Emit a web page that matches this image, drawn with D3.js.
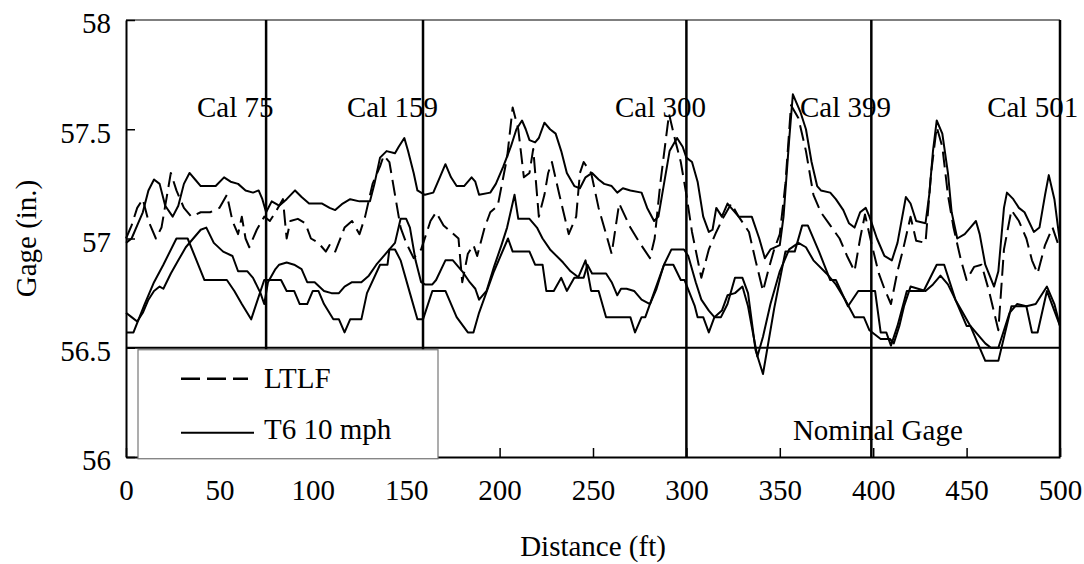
<!DOCTYPE html>
<html>
<head>
<meta charset="utf-8">
<script src="https://cdn.jsdelivr.net/npm/d3@7"></script>
<style>
  body { margin: 0; background: #fff; }
  text { font-family: "Liberation Serif", "Times New Roman", serif; fill: #000; }
</style>
</head>
<body>
<svg id="chart" width="1084" height="564"></svg>
<script>
// Data: [distance (ft), gage (in.)]
const t6Upper = [
  [0,56.98],[3,57.0],[6,57.06],[9,57.12],[12,57.22],[15,57.27],[18,57.25],[21,57.15],[25,57.1],[28,57.15],
  [31,57.25],[34,57.3],[37,57.27],[40,57.24],[48,57.24],[52.5,57.28],[56,57.26],[60,57.25],[64,57.22],[68,57.21],
  [71,57.22],[73,57.18],[75,57.12],[78,57.17],[82,57.15],[86,57.18],[90.5,57.22],[94,57.19],[98,57.16],[105,57.16],
  [109,57.14],[112,57.13],[116,57.16],[120,57.18],[125,57.17],[130.6,57.17],[133,57.25],[136,57.37],[139.5,57.4],[144,57.39],
  [146,57.42],[149,57.46],[151,57.4],[154,57.3],[156,57.22],[160,57.2],[164.5,57.21],[168,57.28],[171,57.34],[174,57.28],
  [177,57.24],[181,57.24],[185,57.28],[187,57.26],[189,57.2],[195,57.21],[198,57.25],[202,57.33],[206,57.42],[209,57.5],
  [212,57.54],[214,57.5],[216,57.45],[219,57.44],[221,57.46],[224,57.53],[227,57.5],[230,57.48],[233,57.4],[236,57.3],
  [240,57.24],[243,57.23],[246,57.28],[249.5,57.3],[253,57.27],[256,57.25],[260,57.24],[263,57.21],[266,57.23],[270,57.22],
  [276,57.21],[279,57.14],[282.7,57.08],[285,57.1],[288,57.25],[291,57.4],[295,57.46],[298,57.42],[300,57.37],[303,57.35],
  [306,57.26],[309,57.1],[312,57.03],[314,57.04],[316,57.14],[319,57.1],[322,57.16],[325,57.13],[328,57.1],[335,57.1],
  [339,57.0],[342,56.91],[345,56.95],[350,56.97],[352,57.1],[355,57.45],[357,57.66],[361,57.58],[364,57.5],[367,57.35],
  [370,57.24],[372,57.22],[377,57.21],[380,57.18],[384,57.13],[387,57.07],[390,57.05],[393,57.12],[396,57.14],[398,57.1],
  [402,57.0],[406,56.92],[410,56.9],[413,56.98],[417.5,57.19],[420,57.16],[423,57.08],[428,57.07],[430,57.2],[432,57.4],
  [434,57.54],[437,57.48],[440,57.3],[442,57.12],[445,57.0],[449,57.02],[452,57.05],[455,57.08],[457,57.02],[460,56.88],
  [464.7,56.78],[467,56.85],[470,57.14],[471.6,57.21],[475,57.18],[478,57.14],[481,57.12],[486,57.03],[489,57.05],[492,57.2],
  [494,57.29],[497,57.18],[500,56.98]
];

const ltlfUpper = [
  [0,57.0],[3,57.06],[6,57.14],[9,57.18],[12,57.08],[16,57.0],[19,57.05],[22,57.2],[24,57.3],[27,57.22],
  [31,57.14],[35,57.1],[40,57.12],[45,57.12],[50,57.14],[54,57.2],[57,57.08],[60,57.02],[62,57.1],[64,57.0],
  [66,56.96],[70,57.04],[74,57.1],[77,57.08],[80,57.12],[84,57.18],[86,57.0],[88,57.08],[92,57.09],[96,57.07],
  [99,57.0],[103,56.98],[107,56.94],[109,56.97],[112,56.94],[117,57.05],[121,57.08],[125,57.02],[128,57.1],[132,57.25],
  [136,57.33],[138,57.38],[141,57.35],[144,57.2],[147,57.05],[150,56.98],[154,56.91],[158,56.95],[163,57.08],[166,57.12],
  [170,57.06],[174,57.03],[178,57.0],[180,56.8],[183,56.93],[186,56.97],[188,56.92],[192,57.05],[195,57.12],[199,57.15],
  [204,57.37],[207,57.6],[210,57.5],[213,57.28],[216,57.3],[218,57.41],[221,57.1],[224,57.2],[226,57.3],[228,57.35],
  [232,57.2],[237,57.02],[241,57.1],[243,57.3],[245,57.35],[249,57.3],[253,57.14],[257,57.02],[260,56.93],[264,57.16],
  [270,57.05],[275,56.98],[280.5,56.91],[283,57.0],[286,57.25],[290.7,57.57],[294,57.45],[297,57.35],[300,57.2],[303,57.03],
  [308,56.82],[312,56.95],[316,57.03],[320,57.1],[324,57.16],[328,57.1],[333.5,57.03],[337,56.9],[341,56.76],[344,56.86],
  [347,56.95],[350,57.02],[353,57.25],[356,57.61],[360,57.55],[364,57.4],[368,57.2],[372,57.12],[377,57.06],[382,57.0],
  [386,56.92],[390,56.85],[393,57.0],[395.6,57.11],[399,56.98],[403,56.84],[406,56.77],[409.5,56.7],[413,56.85],[416,56.95],
  [420,57.1],[423,56.99],[428,56.98],[431,57.3],[434,57.51],[437,57.42],[440,57.2],[443,57.05],[447,56.9],[450,56.81],
  [454,56.87],[458,56.88],[462,56.76],[467,56.58],[470,56.95],[474,57.13],[478,57.08],[482,57.0],[485,56.9],[488,56.84],
  [492,56.97],[496,57.05],[500,56.95]
];

const t6Lower = [
  [0,56.66],[3,56.64],[6,56.62],[9,56.66],[12,56.72],[15,56.76],[18,56.78],[20,56.77],[24,56.84],[28,56.9],
  [32,56.96],[36,57.0],[40,57.04],[43,57.05],[47,56.98],[52,56.94],[57,56.92],[60,56.85],[65,56.85],[68,56.82],
  [72,56.75],[74,56.7],[76,56.8],[80,56.86],[82,56.88],[86,56.89],[90,56.88],[94,56.86],[97,56.8],[101,56.8],
  [106,56.76],[110,56.75],[114,56.75],[117,56.78],[121,56.8],[126,56.8],[130,56.83],[134,56.88],[137,56.91],[141,56.95],
  [144,56.98],[147,57.09],[150,57.09],[152,57.05],[155,56.9],[158,56.8],[160,56.79],[164,56.79],[166,56.81],[171,56.9],
  [175,56.9],[180,56.85],[184,56.8],[187,56.77],[189,56.72],[193,56.76],[197,56.87],[201,56.97],[204,57.05],[208,57.2],
  [210,57.09],[216,57.09],[220,57.05],[223,57.0],[227,56.95],[234,56.89],[238,56.85],[242.5,56.82],[245,56.82],[247,56.88],
  [249.5,56.84],[257,56.84],[260,56.8],[263,56.74],[265,56.77],[268,56.77],[272,56.76],[276,56.72],[280.5,56.7],[284,56.77],
  [288,56.88],[292,56.95],[298.7,56.95],[301,56.92],[305,56.8],[308,56.72],[312,56.67],[315,56.64],[319,56.67],[322,56.74],
  [326,56.75],[330,56.78],[333,56.69],[336,56.55],[338,56.46],[341,56.55],[345,56.7],[350,56.85],[355,56.95],[360,56.98],
  [364,56.96],[368,56.9],[375,56.84],[380,56.79],[385,56.72],[390,56.64],[395,56.64],[398,56.58],[404,56.54],[409,56.54],
  [411,56.52],[414,56.6],[416.5,56.69],[420,56.78],[424,56.77],[428,56.76],[432,56.79],[436,56.83],[440,56.79],[444,56.72],
  [448,56.66],[452,56.6],[456,56.56],[460,56.52],[463,56.5],[467,56.5],[470,56.58],[473,56.66],[477,56.7],[482,56.69],
  [487,56.7],[490,56.74],[493,56.78],[497,56.7],[500,56.6]
];

const ltlfLower = [
  [0,56.57],[4,56.57],[10,56.7],[15,56.8],[20,56.88],[27,57.0],[33,57.0],[42,56.81],[54,56.81],[58,56.76],
  [62,56.7],[67,56.63],[74,56.81],[83,56.81],[86,56.76],[90,56.76],[93,56.7],[97,56.7],[100,56.76],[103,56.76],
  [106,56.7],[111,56.63],[114,56.63],[117,56.57],[120,56.63],[126,56.63],[129,56.75],[136,56.88],[140,56.88],[141,56.95],
  [144,56.95],[147,56.9],[152,56.75],[156,56.63],[159,56.63],[164,56.76],[171,56.76],[177,56.64],[183,56.57],[186,56.57],
  [189,56.66],[197,56.85],[204.5,57.0],[207,56.94],[216,56.94],[219,56.88],[223,56.88],[225,56.76],[229,56.76],[233,56.82],
  [236,56.76],[240,56.82],[242,56.82],[246,56.9],[249,56.76],[253,56.76],[257,56.64],[270,56.64],[272.5,56.57],[276,56.64],
  [278,56.64],[283,56.76],[288,56.88],[293,56.88],[297,56.81],[299,56.81],[304.5,56.69],[306,56.64],[309,56.64],[312,56.57],
  [315,56.64],[318.5,56.64],[322,56.7],[326,56.82],[330,56.82],[333,56.75],[337,56.49],[341,56.38],[347,56.68],[353,56.94],
  [358,56.94],[362,57.06],[365,57.06],[371,56.94],[377,56.81],[380,56.81],[386.5,56.69],[392,56.76],[401,56.76],[404,56.57],
  [407,56.57],[409.5,56.51],[413,56.6],[418,56.76],[427,56.76],[434,56.88],[438,56.88],[444,56.72],[450,56.6],[452,56.6],
  [460,56.44],[467,56.44],[474,56.69],[482,56.69],[485,56.57],[488,56.57],[493,56.76],[500,56.6]
];

// calibration marks and their labels
const calDistances = [75, 159, 300, 399, 500];
const calLabels = ["Cal 75", "Cal 159", "Cal 300", "Cal 399", "Cal 501"];
const calLabelStart = [38, 118.3, 261.8, 360.8, 461];

const nominalGage = 56.5;
const xTicks = [0, 50, 100, 150, 200, 250, 300, 350, 400, 450, 500];
const yTicks = [56, 56.5, 57, 57.5, 58];

const legendNames = ["LTLF", "T6 10 mph"];

// layout
let margin = {top: 20, right: 24, bottom: 107, left: 126};
let width = 1084 - margin.left - margin.right;
let height = 564 - margin.top - margin.bottom;

let svg = d3.select("#chart");

svg.append("rect")
    .attr("width", 1084)
    .attr("height", 564)
    .attr("fill", "#fff");

let chart = svg.append("g")
    .attr("transform", "translate(" + margin.left + "," + margin.top + ")");

let x = d3.scaleLinear().domain([0, 500]).range([0, width]);
let y = d3.scaleLinear().domain([56, 58]).range([height, 0]);

// top border of plot area
chart.append("line")
    .attr("x1", 0).attr("x2", width)
    .attr("y1", 0).attr("y2", 0)
    .attr("stroke", "#555")
    .attr("stroke-width", 1.5);

// series
let line = d3.line()
    .x((d) => { return x(d[0]); })
    .y((d) => { return y(d[1]); });

let series = [
    {data: t6Upper, dash: null},
    {data: ltlfUpper, dash: "16,7"},
    {data: t6Lower, dash: null},
    {data: ltlfLower, dash: null}
];

series.forEach((s) => {
    chart.append("path")
        .datum(s.data)
        .attr("fill", "none")
        .attr("stroke", "#000")
        .attr("stroke-width", 2)
        .attr("stroke-linejoin", "round")
        .attr("stroke-dasharray", s.dash)
        .attr("d", line);
});

// calibration lines
chart.selectAll(".cal")
    .data(calDistances)
    .enter().append("line")
    .attr("x1", (d) => x(Math.min(d, 500)))
    .attr("x2", (d) => x(Math.min(d, 500)))
    .attr("y1", 0)
    .attr("y2", height)
    .attr("stroke", "#000")
    .attr("stroke-width", 2.5);

chart.selectAll(".calLabel")
    .data(calLabels)
    .enter().append("text")
    .attr("x", (d, i) => x(calLabelStart[i]))
    .attr("y", 97)
    .attr("font-size", 29)
    .text((d) => d);

// nominal gage line
chart.append("line")
    .attr("x1", 0).attr("x2", width)
    .attr("y1", y(nominalGage)).attr("y2", y(nominalGage))
    .attr("stroke", "#000")
    .attr("stroke-width", 2);

chart.append("text")
    .attr("x", x(357))
    .attr("y", y(56.08))
    .attr("font-size", 29)
    .text("Nominal Gage");

// axes
let xAxis = chart.append("g")
    .attr("transform", "translate(0," + height + ")")
    .call(d3.axisBottom(x).tickValues(xTicks).tickSizeInner(-9).tickSizeOuter(0).tickPadding(22).tickFormat(d3.format("d")));

let yAxis = chart.append("g")
    .call(d3.axisLeft(y).tickValues(yTicks).tickSizeInner(-9).tickSizeOuter(0).tickPadding(15).tickFormat((d) => String(d)));

[xAxis, yAxis].forEach((a) => {
    a.attr("font-family", null);
    a.select(".domain").attr("stroke", "#000").attr("stroke-width", 2);
    a.selectAll(".tick line").attr("stroke", "#000").attr("stroke-width", 1.5);
    a.selectAll(".tick text")
        .attr("font-size", 29)
        .attr("fill", "#000");
});
yAxis.selectAll(".tick text").attr("dy", "0.44em");

// legend
let legend = chart.append("g")
    .attr("transform", "translate(12," + (y(nominalGage) + 2) + ")");

legend.append("rect")
    .attr("width", 300)
    .attr("height", 109)
    .attr("fill", "#fff")
    .attr("stroke", "#777")
    .attr("stroke-width", 1.2);

legend.append("line")
    .attr("x1", 43).attr("x2", 110)
    .attr("y1", 29).attr("y2", 29)
    .attr("stroke", "#000").attr("stroke-width", 2.5)
    .attr("stroke-dasharray", "19,7");

legend.append("line")
    .attr("x1", 43).attr("x2", 116)
    .attr("y1", 83).attr("y2", 83)
    .attr("stroke", "#000").attr("stroke-width", 2);

legend.selectAll(".legText")
    .data(legendNames)
    .enter().append("text")
    .attr("x", 126)
    .attr("y", (d, i) => 38 + i * 51)
    .attr("font-size", 29)
    .text((d) => d);

// axis titles
svg.append("text")
    .attr("x", margin.left + width / 2)
    .attr("y", 556)
    .attr("text-anchor", "middle")
    .attr("font-size", 29)
    .text("Distance (ft)");

svg.append("text")
    .attr("transform", "translate(36," + (margin.top + height / 2) + ") rotate(-90)")
    .attr("text-anchor", "middle")
    .attr("font-size", 29)
    .text("Gage (in.)");
</script>
</body>
</html>
